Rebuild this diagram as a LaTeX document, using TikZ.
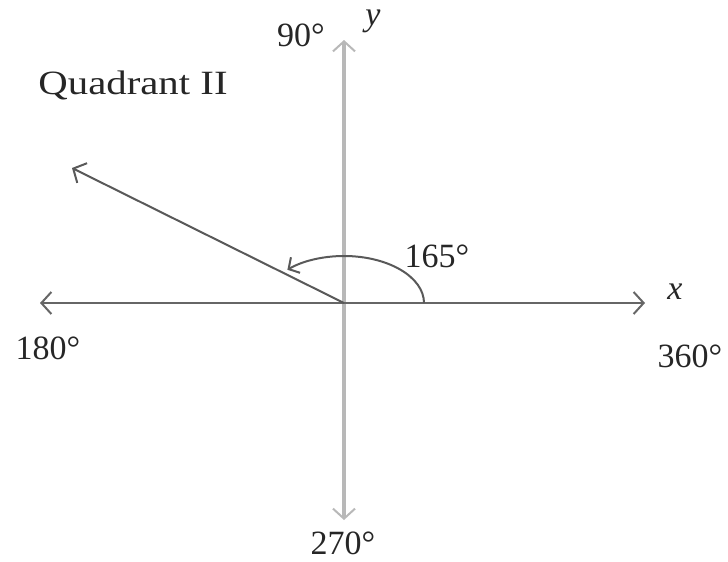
\documentclass[tikz,border=0pt]{standalone}
\usepackage{fontspec}
\setmainfont{Liberation Serif}
\usetikzlibrary{arrows.meta}
\begin{document}
\begin{tikzpicture}[x=1pt,y=-1pt,
  lbl/.style={inner sep=0pt,text=black!85,font=\fontsize{34}{34}\selectfont},
  tip/.style={-{Straight Barb[length=10pt,width=22pt,line width=2pt]}},
  yaxis/.style={draw=black!28,line width=4pt},
  xaxis/.style={draw=black!60,line width=2pt},
  ray/.style={draw=black!65,line width=2pt}]
\useasboundingbox (0,0) rectangle (728,562);
\coordinate (O) at (344,303);
\coordinate (Yt) at (344,40);
\coordinate (Yb) at (344,520);
\coordinate (Xl) at (40,303);
\coordinate (Xr) at (645,303);
\coordinate (R) at (72,168);
\draw[yaxis,tip] (O) -- (Yt);
\draw[yaxis,tip] (O) -- (Yb);
\draw[xaxis,tip] (O) -- (Xl);
\draw[xaxis,tip] (O) -- (Xr);
\draw[ray,tip] (O) -- (R);
\draw[ray,-{Straight Barb[length=8pt,width=18pt,line width=2pt]}] (424,303) arc[start angle=0,end angle=-135,x radius=80,y radius=47];
\node[lbl] (n90) at (301,35) {90°};
\node[lbl,font=\fontsize{34}{34}\selectfont\itshape] (ny) at (373,21) {y};
\node[lbl,xscale=1.2] (q2) at (133,85) {Quadrant II};
\node[lbl] (n165) at (437,256) {165°};
\node[lbl] (n180) at (48,348) {180°};
\node[lbl,font=\fontsize{34}{34}\selectfont\itshape] (nx) at (675,292) {x};
\node[lbl] (n360) at (690,356) {360°};
\node[lbl] (n270) at (343,543) {270°};
\end{tikzpicture}
\end{document}
